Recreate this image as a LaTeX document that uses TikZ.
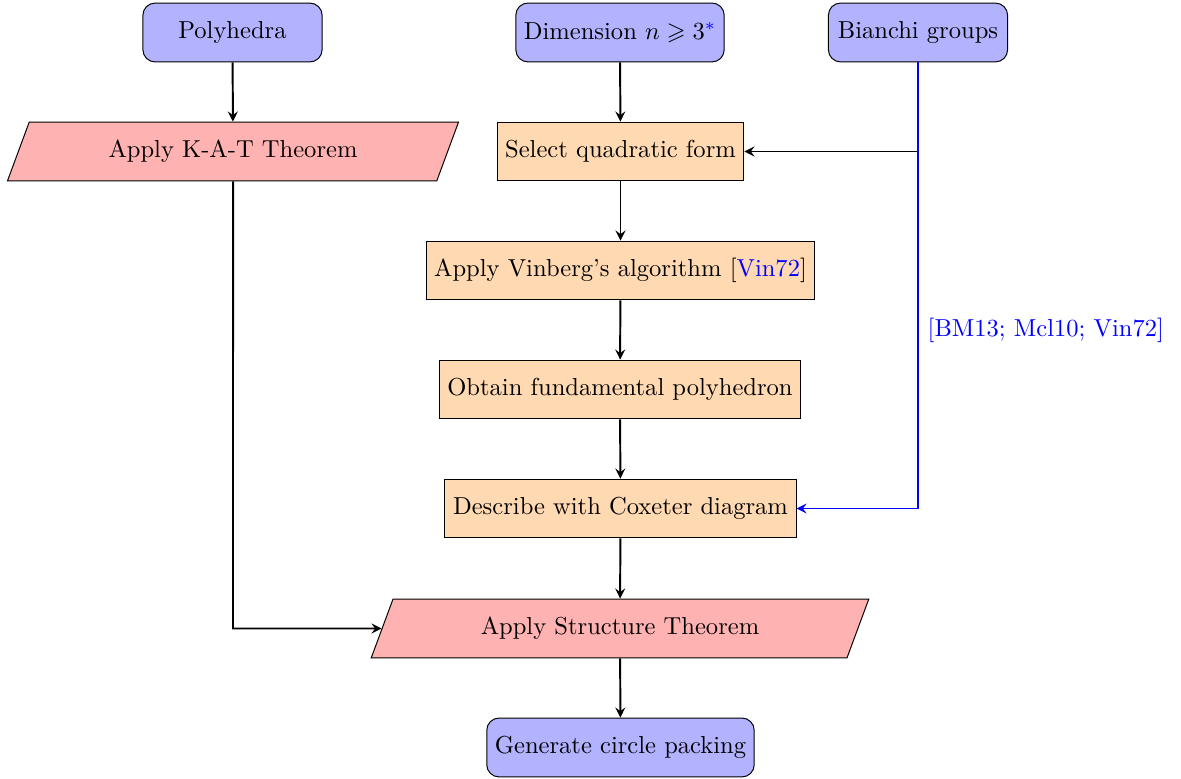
\documentclass[tikz,border=0pt]{standalone}
\usepackage{amssymb}
\usetikzlibrary{shapes.geometric,arrows}
\begin{document}
\begin{tikzpicture}[x=0.4073pt,y=-0.4073pt,
  startstop/.style={rectangle, rounded corners=5pt, draw=black, fill=blue!30, minimum width=73pt, minimum height=24pt, inner xsep=3.3pt},
  process/.style={rectangle, draw=black, fill=orange!30, minimum height=24pt, inner xsep=3.3pt},
  io/.style={trapezium, trapezium left angle=70, trapezium right angle=110, trapezium stretches=true, draw=black, fill=red!30, minimum height=24pt},
  arrow/.style={thick,-stealth}]
\useasboundingbox (0,0) rectangle (1181,779);
\node[startstop] (poly) at (232.5,32.5) {Polyhedra};
\node[startstop] (dim) at (620,32.5) {Dimension $n\geqslant 3^{\textcolor{blue}{*}}$};
\node[startstop] (bian) at (918,32.5) {Bianchi groups};
\node[io, minimum width=184pt] (kat) at (233,151.5) {Apply K-A-T Theorem};
\node[process] (sel) at (620.5,151.5) {Select quadratic form};
\node[process] (vin) at (620.5,270.5) {Apply Vinberg's algorithm [\textcolor{blue}{Vin72}]};
\node[process] (obt) at (620,389.5) {Obtain fundamental polyhedron};
\node[process] (cox) at (620.5,508.5) {Describe with Coxeter diagram};
\node[io, minimum width=203pt] (str) at (620,628.5) {Apply Structure Theorem};
\node[startstop] (gen) at (620.5,747.5) {Generate circle packing};
\coordinate (br) at (918,151.5);
\coordinate (bc) at (918,508.5);
\coordinate (kc) at (233,628.5);
\node[anchor=west, text=blue] (lab) at (919,330) {[BM13; Mcl10; Vin72]};
\draw[arrow] (poly) -- (kat);
\draw[arrow] (dim) -- (sel);
\draw[arrow] (sel) -- (vin);
\draw[arrow] (vin) -- (obt);
\draw[arrow] (obt) -- (cox);
\draw[arrow] (cox) -- (str);
\draw[arrow] (str) -- (gen);
\draw[arrow] (br) -- (sel.east);
\draw[arrow, blue] (bian.south) -- (bc) -- (cox.east);
\draw[arrow] (kat.south) -- (kc) -- (str.west);
\end{tikzpicture}
\end{document}
